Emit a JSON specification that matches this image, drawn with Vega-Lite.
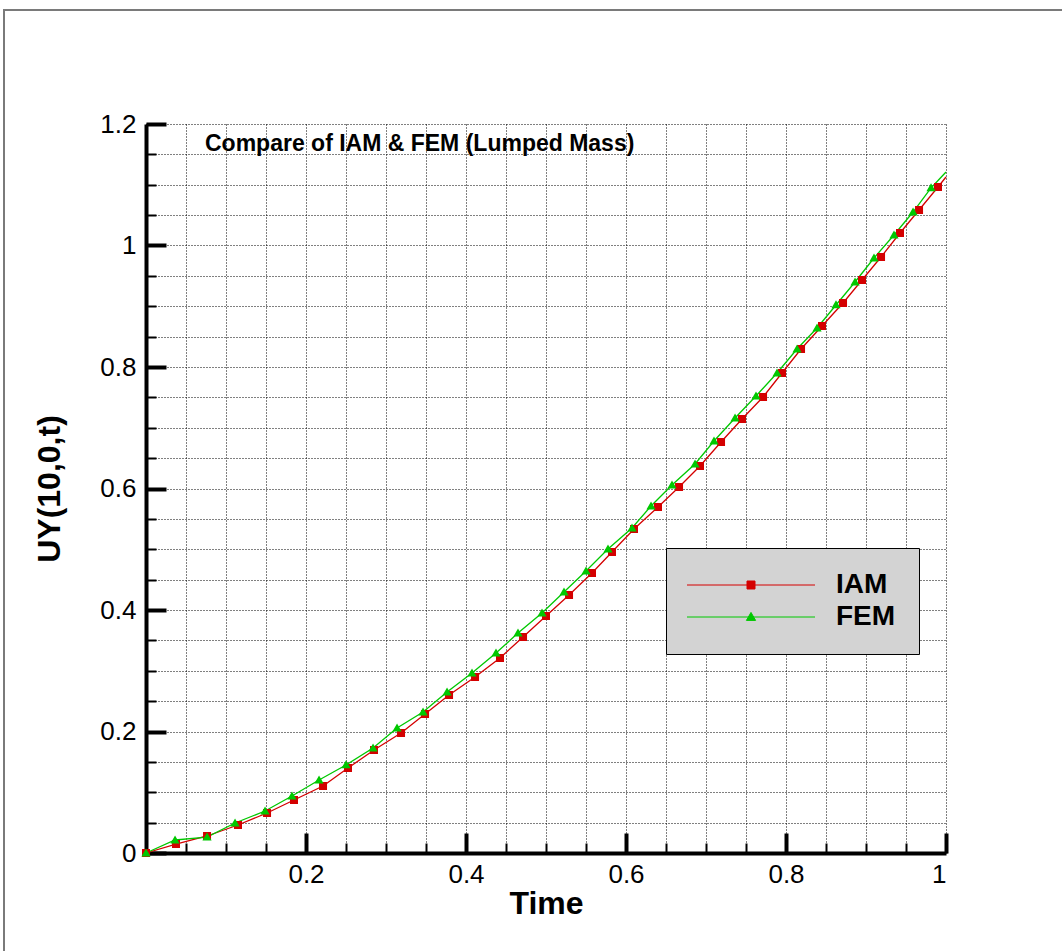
{
  "$schema": "https://vega.github.io/schema/vega-lite/v6.json",
  "width": 800,
  "height": 729,
  "autosize": "none",
  "padding": {"left": 146, "top": 124, "right": 116, "bottom": 98},
  "background": "white",
  "config": {
    "view": {"stroke": null},
    "axis": {
      "domainColor": "black",
      "tickColor": "black",
      "labelColor": "black",
      "titleColor": "black",
      "labelFont": "Liberation Sans",
      "titleFont": "Liberation Sans",
      "gridColor": "black",
      "gridDash": [1, 2],
      "gridWidth": 1,
      "gridOpacity": 1
    }
  },
  "datasets": {
    "curves": [
      {"t": 0, "uy": 0, "series": "IAM"},
      {"t": 0.0375, "uy": 0.0148, "series": "IAM"},
      {"t": 0.0763, "uy": 0.028, "series": "IAM"},
      {"t": 0.115, "uy": 0.0461, "series": "IAM"},
      {"t": 0.1513, "uy": 0.0658, "series": "IAM"},
      {"t": 0.185, "uy": 0.0872, "series": "IAM"},
      {"t": 0.2213, "uy": 0.1103, "series": "IAM"},
      {"t": 0.2525, "uy": 0.1399, "series": "IAM"},
      {"t": 0.285, "uy": 0.1695, "series": "IAM"},
      {"t": 0.3188, "uy": 0.1975, "series": "IAM"},
      {"t": 0.3488, "uy": 0.2288, "series": "IAM"},
      {"t": 0.3788, "uy": 0.2601, "series": "IAM"},
      {"t": 0.4113, "uy": 0.2897, "series": "IAM"},
      {"t": 0.4425, "uy": 0.321, "series": "IAM"},
      {"t": 0.4713, "uy": 0.3556, "series": "IAM"},
      {"t": 0.5, "uy": 0.3901, "series": "IAM"},
      {"t": 0.5288, "uy": 0.4247, "series": "IAM"},
      {"t": 0.5575, "uy": 0.4609, "series": "IAM"},
      {"t": 0.5825, "uy": 0.4955, "series": "IAM"},
      {"t": 0.61, "uy": 0.5333, "series": "IAM"},
      {"t": 0.64, "uy": 0.5695, "series": "IAM"},
      {"t": 0.6663, "uy": 0.6025, "series": "IAM"},
      {"t": 0.6925, "uy": 0.637, "series": "IAM"},
      {"t": 0.7188, "uy": 0.6765, "series": "IAM"},
      {"t": 0.745, "uy": 0.7144, "series": "IAM"},
      {"t": 0.7713, "uy": 0.7506, "series": "IAM"},
      {"t": 0.795, "uy": 0.7901, "series": "IAM"},
      {"t": 0.8188, "uy": 0.8296, "series": "IAM"},
      {"t": 0.845, "uy": 0.8675, "series": "IAM"},
      {"t": 0.8713, "uy": 0.9053, "series": "IAM"},
      {"t": 0.895, "uy": 0.9432, "series": "IAM"},
      {"t": 0.9188, "uy": 0.9811, "series": "IAM"},
      {"t": 0.9425, "uy": 1.0206, "series": "IAM"},
      {"t": 0.9663, "uy": 1.0584, "series": "IAM"},
      {"t": 0.99, "uy": 1.0963, "series": "IAM"},
      {"t": 1, "uy": 1.1128, "series": "IAM"},
      {"t": 0, "uy": 0, "series": "FEM"},
      {"t": 0.0363, "uy": 0.0214, "series": "FEM"},
      {"t": 0.0763, "uy": 0.0263, "series": "FEM"},
      {"t": 0.1113, "uy": 0.0494, "series": "FEM"},
      {"t": 0.1488, "uy": 0.0691, "series": "FEM"},
      {"t": 0.1825, "uy": 0.0938, "series": "FEM"},
      {"t": 0.2163, "uy": 0.1202, "series": "FEM"},
      {"t": 0.25, "uy": 0.1449, "series": "FEM"},
      {"t": 0.2838, "uy": 0.1728, "series": "FEM"},
      {"t": 0.3138, "uy": 0.2058, "series": "FEM"},
      {"t": 0.3463, "uy": 0.2321, "series": "FEM"},
      {"t": 0.3763, "uy": 0.265, "series": "FEM"},
      {"t": 0.4075, "uy": 0.2963, "series": "FEM"},
      {"t": 0.4375, "uy": 0.3292, "series": "FEM"},
      {"t": 0.465, "uy": 0.3621, "series": "FEM"},
      {"t": 0.495, "uy": 0.3951, "series": "FEM"},
      {"t": 0.5225, "uy": 0.4296, "series": "FEM"},
      {"t": 0.55, "uy": 0.4642, "series": "FEM"},
      {"t": 0.5775, "uy": 0.5004, "series": "FEM"},
      {"t": 0.6075, "uy": 0.535, "series": "FEM"},
      {"t": 0.6313, "uy": 0.5712, "series": "FEM"},
      {"t": 0.6575, "uy": 0.6058, "series": "FEM"},
      {"t": 0.6863, "uy": 0.6403, "series": "FEM"},
      {"t": 0.71, "uy": 0.6782, "series": "FEM"},
      {"t": 0.7363, "uy": 0.716, "series": "FEM"},
      {"t": 0.7625, "uy": 0.7523, "series": "FEM"},
      {"t": 0.7888, "uy": 0.7901, "series": "FEM"},
      {"t": 0.8138, "uy": 0.8296, "series": "FEM"},
      {"t": 0.8388, "uy": 0.8642, "series": "FEM"},
      {"t": 0.8625, "uy": 0.9021, "series": "FEM"},
      {"t": 0.8863, "uy": 0.9399, "series": "FEM"},
      {"t": 0.91, "uy": 0.9794, "series": "FEM"},
      {"t": 0.935, "uy": 1.0173, "series": "FEM"},
      {"t": 0.9588, "uy": 1.0551, "series": "FEM"},
      {"t": 0.9813, "uy": 1.0947, "series": "FEM"},
      {"t": 1, "uy": 1.121, "series": "FEM"}
    ]
  },
  "data": {"name": "curves"},
  "resolve": {"axis": {"x": "independent", "y": "independent"}},
  "layer": [
    {
      "data": {"values": [{}]},
      "mark": {"type": "rect", "fill": null, "stroke": "#7a7a7a", "strokeWidth": 2, "clip": false},
      "encoding": {
        "x": {"datum": -0.1775, "type": "quantitative", "scale": {"domain": [0, 1], "nice": false}, "axis": null},
        "x2": {"datum": 1.2},
        "y": {"datum": 1.3877, "type": "quantitative", "scale": {"domain": [0, 1.2], "nice": false}, "axis": null},
        "y2": {"datum": -0.2}
      }
    },
    {
      "mark": {"type": "line", "strokeWidth": 1.3},
      "encoding": {
        "x": {
          "field": "t", "type": "quantitative",
          "axis": {
            "orient": "bottom",
            "values": [0, 0.05, 0.1, 0.15, 0.2, 0.25, 0.3, 0.35, 0.4, 0.45, 0.5, 0.55, 0.6, 0.65, 0.7, 0.75, 0.8, 0.85, 0.9, 0.95, 1],
            "grid": true, "domain": false, "labels": false, "title": null,
            "ticks": true, "tickSize": -10, "tickWidth": 2
          }
        },
        "y": {
          "field": "uy", "type": "quantitative",
          "axis": {
            "orient": "left",
            "values": [0, 0.05, 0.1, 0.15, 0.2, 0.25, 0.3, 0.35, 0.4, 0.45, 0.5, 0.55, 0.6, 0.65, 0.7, 0.75, 0.8, 0.85, 0.9, 0.95, 1, 1.05, 1.1, 1.15, 1.2],
            "grid": true, "domain": false, "labels": false, "title": null,
            "ticks": true, "tickSize": -10, "tickWidth": 2
          }
        },
        "stroke": {
          "field": "series", "type": "nominal",
          "scale": {"domain": ["IAM", "FEM"], "range": ["#d40000", "#00c800"]}
        },
        "detail": {"field": "series"}
      }
    },
    {
      "transform": [{"filter": "datum.t < 1"}],
      "mark": {"type": "point", "filled": true, "size": 64, "opacity": 1},
      "encoding": {
        "x": {
          "field": "t", "type": "quantitative",
          "axis": {
            "orient": "bottom",
            "values": [0.2, 0.4, 0.6, 0.8, 1],
            "format": "~g",
            "grid": false, "domain": true, "domainWidth": 4,
            "ticks": true, "tickSize": -20, "tickWidth": 4,
            "labelFontSize": 26, "labelPadding": 28,
            "title": "Time", "titleFontSize": 32, "titleFontWeight": "bold", "titlePadding": 1
          }
        },
        "y": {
          "field": "uy", "type": "quantitative",
          "axis": {
            "orient": "left",
            "values": [0, 0.2, 0.4, 0.6, 0.8, 1, 1.2],
            "format": "~g",
            "grid": false, "domain": true, "domainWidth": 4,
            "ticks": true, "tickSize": -20, "tickWidth": 4,
            "labelFontSize": 26, "labelPadding": 30,
            "title": "UY(10,0,t)", "titleFontSize": 32, "titleFontWeight": "bold", "titlePadding": 33
          }
        },
        "color": {
          "field": "series", "type": "nominal",
          "scale": {"domain": ["IAM", "FEM"], "range": ["#d40000", "#00c800"]},
          "legend": {
            "orient": "none", "legendX": 520, "legendY": 424,
            "title": null,
            "fillColor": "#d3d3d3", "strokeColor": "black",
            "padding": 23, "rowPadding": 4,
            "symbolSize": 64, "symbolStrokeWidth": 1, "symbolOffset": 48,
            "labelFont": "Liberation Sans", "labelFontSize": 28, "labelFontWeight": "bold", "labelColor": "black",
            "labelOffset": 71
          }
        },
        "stroke": {
          "field": "series", "type": "nominal",
          "scale": {"domain": ["IAM", "FEM"], "range": ["#d40000", "#00c800"]}
        },
        "shape": {
          "field": "series", "type": "nominal",
          "scale": {
            "domain": ["IAM", "FEM"],
            "range": ["M-16,0H16M-1,-1H1V1H-1Z", "M-16,0H16M0,-1.15L1.15,0.85H-1.15Z"]
          }
        },
        "strokeWidth": {"value": 0}
      }
    },
    {
      "data": {"values": [{"label": "Compare of IAM & FEM (Lumped Mass)"}]},
      "mark": {"type": "text", "font": "Liberation Sans", "fontSize": 23, "fontWeight": "bold", "align": "left", "baseline": "middle", "color": "black"},
      "encoding": {
        "x": {"datum": 0.07375, "type": "quantitative", "axis": null},
        "y": {"datum": 1.1671, "type": "quantitative", "axis": null},
        "text": {"field": "label"}
      }
    }
  ]
}
